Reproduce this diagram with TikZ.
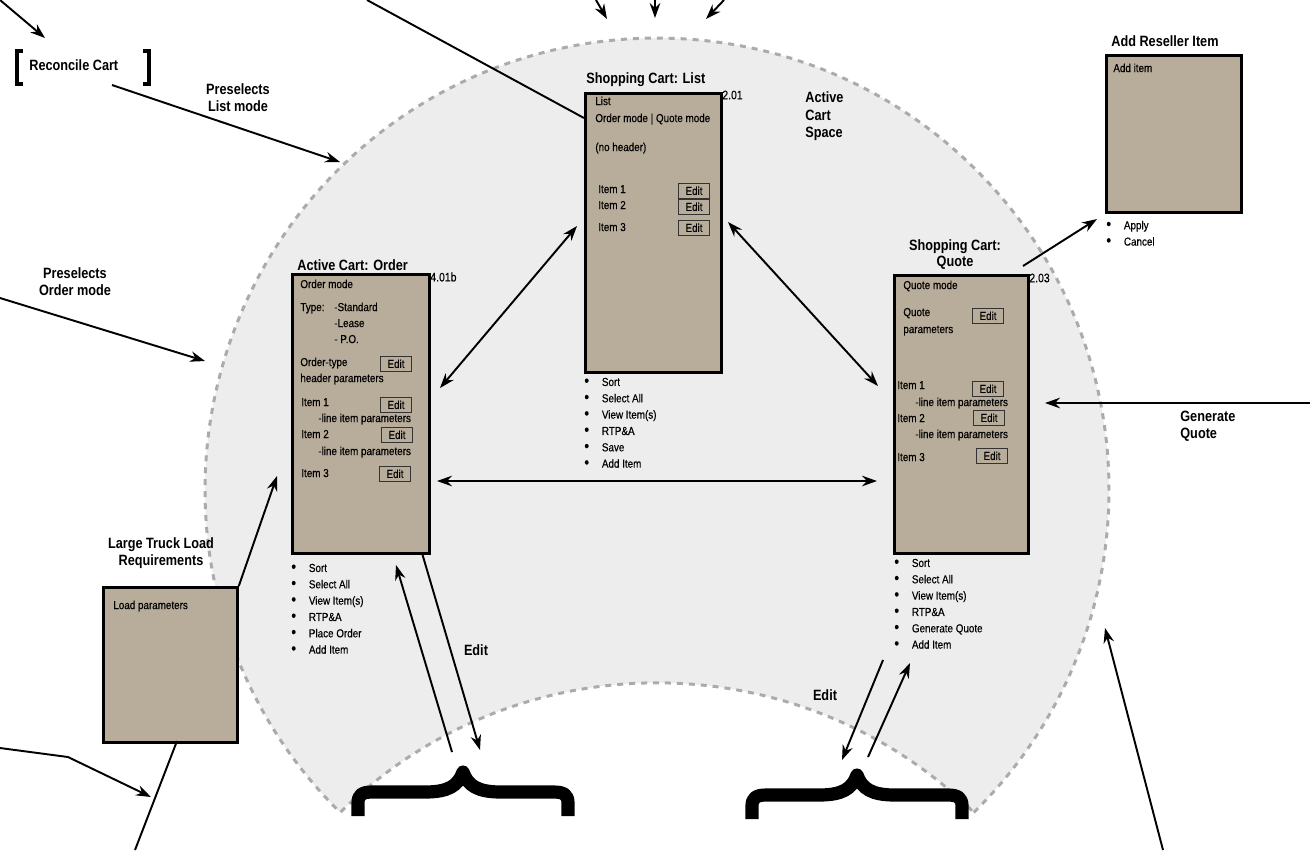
\documentclass[tikz,border=0pt]{standalone}
\usepackage{fontspec}
\setmainfont{Liberation Sans}[FakeStretch=0.85, UprightFeatures={FakeBold=0.4}]
\usetikzlibrary{arrows.meta,decorations.pathreplacing}

\definecolor{screenfill}{HTML}{B8AC9A}
\definecolor{spacefill}{HTML}{EDEDED}
\definecolor{spaceline}{HTML}{ABABAB}

\newcommand{\boxfont}{\fontsize{6.6}{9.3}\selectfont}
\newcommand{\headfont}{\bfseries\fontsize{8.5}{9.6}\selectfont}
\newcommand{\itm}{\makebox[10pt][l]{\fontsize{9}{9}\selectfont\textbullet}}

\begin{document}
\begin{tikzpicture}[x=0.02cm,y=-0.02cm,
    screen/.style={draw, line width=1.6pt, fill=screenfill, anchor=north west, inner sep=0pt},
    editbtn/.style={draw=black!80, line width=0.6pt, fill=screenfill, anchor=north west,
      minimum width=0.62cm, minimum height=0.29cm, inner sep=0pt, font=\boxfont},
    txt/.style={anchor=west, inner sep=0pt, font=\boxfont, text height=4.8pt, text depth=1.3pt},
    menu/.style={anchor=north west, inner sep=0pt, font=\boxfont, align=left},
    ttl/.style={inner sep=0pt, font=\headfont, align=center},
    num/.style={anchor=west, inner sep=0pt, font=\fontsize{7}{8}\selectfont},
    arr/.style={-{Stealth[length=8.5pt,width=6pt]}, line width=1.1pt},
    dbl/.style={{Stealth[length=8.5pt,width=6pt]}-{Stealth[length=8.5pt,width=6pt]}, line width=1.1pt},
    brc/.style={line width=7.5pt, line join=round}]

    \useasboundingbox (0,0) rectangle (1310,850);

    % active cart space
    \path[fill=spacefill, draw=spaceline, line width=1.7pt, dash pattern=on 3.4pt off 3.4pt]
        (973.8,812.4) arc[start angle=45.5, end angle=-225.5, radius=452]
        arc[start angle=-134.5, end angle=-45.5, radius=452] -- cycle;

    % screens
    \node[screen, minimum width=2.74cm, minimum height=5.58cm] (order) at (291,273) {};
    \node[screen, minimum width=2.72cm, minimum height=5.58cm] (list) at (584,92) {};
    \node[screen, minimum width=2.68cm, minimum height=5.56cm] (quote) at (893,274) {};
    \node[screen, minimum width=2.70cm, minimum height=3.14cm] (reseller) at (1105,54) {};
    \node[screen, minimum width=2.68cm, minimum height=3.10cm] (load) at (102,586) {};

    % titles
    \node[ttl, anchor=west] (ordertitle) at (297,265) {Active Cart: Order};
    \node[num] (ordernum) at (430,277) {4.01b};
    \node[ttl, anchor=west] (listtitle) at (586,80) {Shopping Cart: List};
    \node[num] (listnum) at (722,95) {2.01};
    \node[ttl] (quotetitle) at (955,254.5) {Shopping Cart:\\Quote};
    \node[num] (quotenum) at (1029,278) {2.03};
    \node[ttl, anchor=west] (resellertitle) at (1111,41) {Add Reseller Item};
    \node[ttl] (loadtitle) at (161,553) {Large Truck Load\\Requirements};

    % order screen
    \node[txt] (om) at (300,285) {Order mode};
    \node[txt] (otype) at (300,308) {Type:};
    \node[txt] (ostd) at (334,308) {-Standard};
    \node[txt] (olease) at (334,324) {-Lease};
    \node[txt] (opo) at (334,340) {- P.O.};
    \node[txt] (ohead) at (300,363) {Order-type};
    \node[txt] (ohead2) at (300,379) {header parameters};
    \node[editbtn] (oedit0) at (380,356) {Edit};
    \node[txt] (oitem1) at (301,403) {Item 1};
    \node[editbtn] (oedit1) at (380,397) {Edit};
    \node[txt] (oparam1) at (318,419) {-line item parameters};
    \node[txt] (oitem2) at (301,435) {Item 2};
    \node[editbtn] (oedit2) at (381,427) {Edit};
    \node[txt] (oparam2) at (318,452) {-line item parameters};
    \node[txt] (oitem3) at (301,474) {Item 3};
    \node[editbtn] (oedit3) at (379,466) {Edit};
    \node[menu] (omenu) at (291,563.5) {\itm Sort\\\itm Select All\\\itm View Item(s)\\\itm RTP\&A\\\itm Place Order\\\itm Add Item};

    % list screen
    \node[txt] (lm) at (595,102) {List};
    \node[txt] (lmode) at (595,119) {Order mode | Quote mode};
    \node[txt] (lhead) at (595,148) {(no header)};
    \node[txt] (litem1) at (598,190) {Item 1};
    \node[editbtn] (ledit1) at (678,183) {Edit};
    \node[txt] (litem2) at (598,206) {Item 2};
    \node[editbtn] (ledit2) at (678,199) {Edit};
    \node[txt] (litem3) at (598,228) {Item 3};
    \node[editbtn] (ledit3) at (678,220) {Edit};
    \node[menu] (lmenu) at (584,377.5) {\itm Sort\\\itm Select All\\\itm View Item(s)\\\itm RTP\&A\\\itm Save\\\itm Add Item};

    % quote screen
    \node[txt] (qm) at (903,286) {Quote mode};
    \node[txt] (qparam) at (903,313) {Quote};
    \node[txt] (qparam2) at (903,330) {parameters};
    \node[editbtn] (qedit0) at (972,308) {Edit};
    \node[txt] (qitem1) at (897,386) {Item 1};
    \node[editbtn] (qedit1) at (972,381) {Edit};
    \node[txt] (qline1) at (915,403) {-line item parameters};
    \node[txt] (qitem2) at (897,419) {Item 2};
    \node[editbtn] (qedit2) at (973,410) {Edit};
    \node[txt] (qline2) at (915,435) {-line item parameters};
    \node[txt] (qitem3) at (897,458) {Item 3};
    \node[editbtn] (qedit3) at (976,448) {Edit};
    \node[menu] (qmenu) at (894,558.5) {\itm Sort\\\itm Select All\\\itm View Item(s)\\\itm RTP\&A\\\itm Generate Quote\\\itm Add Item};

    % reseller and load screens
    \node[txt] (radd) at (1113,69) {Add item};
    \node[menu] (rmenu) at (1106,220.5) {\itm Apply\\\itm Cancel};
    \node[txt] (lparam) at (113,606) {Load parameters};

    % loose labels
    \node[ttl, anchor=west] (rc) at (29,65) {Reconcile Cart};
    \draw[line width=2.2pt] (23,51) -- (17,51) -- (17,84) -- (23,84);
    \draw[line width=2.2pt] (143,51) -- (149,51) -- (149,84) -- (143,84);
    \node[ttl] (prelist) at (238,98) {Preselects\\List mode};
    \node[ttl] (preorder) at (75,281.5) {Preselects\\Order mode};
    \node[ttl, anchor=west, align=left, font=\bfseries\fontsize{8.5}{9.9}\selectfont] (space) at (805,116.5) {Active\\Cart\\Space};
    \node[ttl, anchor=west, align=left] (genquote) at (1180,426.5) {Generate\\Quote};
    \node[ttl] (oeditlbl) at (476,650) {Edit};
    \node[ttl] (qeditlbl) at (825,695) {Edit};

    % loose ends
    \coordinate (tlA) at (0,0);
    \coordinate (tlB) at (45,38);
    \coordinate (rcout) at (112,85);
    \coordinate (spaceL) at (340,162);
    \coordinate (topL) at (367,0);
    \coordinate (listin) at (584,118);
    \coordinate (t1A) at (596,0);
    \coordinate (t1B) at (607,19);
    \coordinate (t2A) at (655,0);
    \coordinate (t2B) at (655,18);
    \coordinate (t3A) at (724,0);
    \coordinate (t3B) at (706,19);
    \coordinate (poA) at (0,298);
    \coordinate (poB) at (205,361);
    \coordinate (loadtip) at (277,476);
    \coordinate (botA) at (135,850);
    \coordinate (loadin) at (177,741);
    \coordinate (lfA) at (0,748);
    \coordinate (lfB) at (68,757);
    \coordinate (lfC) at (151,797);
    \coordinate (olA) at (440,388);
    \coordinate (olB) at (577,226);
    \coordinate (lqA) at (728,222);
    \coordinate (lqB) at (878,386);
    \coordinate (oqA) at (437,481);
    \coordinate (oqB) at (877,481);
    \coordinate (oupA) at (452,752);
    \coordinate (oupB) at (396,565);
    \coordinate (odnA) at (422,553);
    \coordinate (odnB) at (480,750);
    \coordinate (qdnA) at (883,660);
    \coordinate (qdnB) at (842,760);
    \coordinate (qupA) at (868,757);
    \coordinate (qupB) at (910,663);
    \coordinate (qrA) at (1023,266);
    \coordinate (qrB) at (1097,219);
    \coordinate (gqA) at (1310,403);
    \coordinate (gqB) at (1045,403);
    \coordinate (brA) at (1163,850);
    \coordinate (brB) at (1105,628);

    % connectors
    \draw[arr] (tlA) -- (tlB);
    \draw[arr] (rcout) -- (spaceL);
    \draw[line width=1.1pt] (topL) -- (listin);
    \draw[arr] (t1A) -- (t1B);
    \draw[arr] (t2A) -- (t2B);
    \draw[arr] (t3A) -- (t3B);
    \draw[arr] (poA) -- (poB);
    \draw[arr] (load.north east) -- (loadtip);
    \draw[line width=1.1pt] (botA) -- (loadin);
    \draw[arr] (lfA) -- (lfB) -- (lfC);
    \draw[dbl] (olA) -- (olB);
    \draw[dbl] (lqA) -- (lqB);
    \draw[dbl] (oqA) -- (oqB);
    \draw[arr] (oupA) -- (oupB);
    \draw[arr] (odnA) -- (odnB);
    \draw[arr] (qdnA) -- (qdnB);
    \draw[arr] (qupA) -- (qupB);
    \draw[arr] (qrA) -- (qrB);
    \draw[arr] (gqA) -- (gqB);
    \draw[arr] (brA) -- (brB);

    % braces
    \draw[brc] (358,816) -- (358,803) .. controls (358,795) and (362,792) .. (372,792)
        -- (425,792) .. controls (448,792) and (458,786) .. (463,772)
        .. controls (468,786) and (478,792) .. (501,792) -- (554,792)
        .. controls (564,792) and (568,795) .. (568,803) -- (568,816);
    \draw[brc, shift={(394,3)}] (358,816) -- (358,803) .. controls (358,795) and (362,792) .. (372,792)
        -- (425,792) .. controls (448,792) and (458,786) .. (463,772)
        .. controls (468,786) and (478,792) .. (501,792) -- (554,792)
        .. controls (564,792) and (568,795) .. (568,803) -- (568,816);
\end{tikzpicture}
\end{document}
